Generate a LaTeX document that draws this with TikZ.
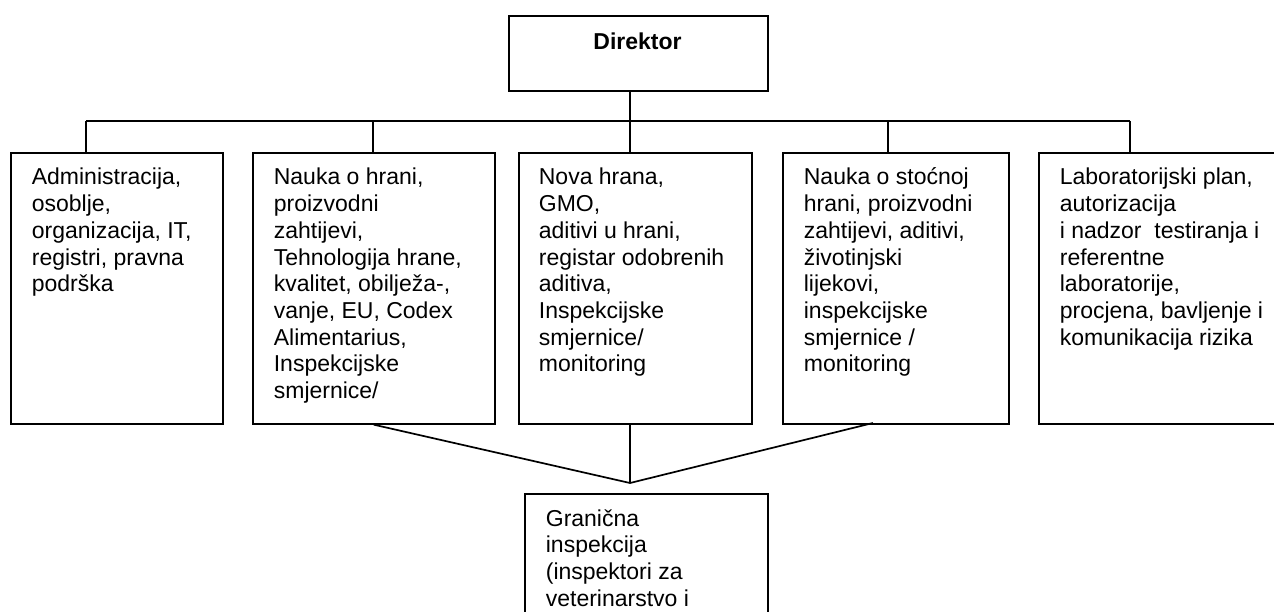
\documentclass[tikz,border=0pt]{standalone}
\usepackage{fontspec}
\setmainfont{Liberation Sans}
\begin{document}
\begin{tikzpicture}[x=1pt,y=-1pt,line width=1.7pt,
  box/.style={draw,line width=1.7pt,inner sep=0pt,anchor=north west},
  body/.style={inner sep=0pt,anchor=base west,font=\fontsize{23}{26.7}\selectfont},
  head/.style={inner sep=0pt,anchor=base,font=\bfseries\fontsize{23}{26.7}\selectfont}]
\clip (0,0) rectangle (1274,612);
\fill[white] (0,0) rectangle (1274,612);

% boxes
\node[box,minimum width=259pt,minimum height=75pt] (dir) at (508,15) {};
\node[box,minimum width=212pt,minimum height=271pt] (b1) at (10,152) {};
\node[box,minimum width=242pt,minimum height=271pt] (b2) at (252,152) {};
\node[box,minimum width=233pt,minimum height=271pt] (b3) at (518,152) {};
\node[box,minimum width=226pt,minimum height=271pt] (b4) at (782,152) {};
\node[box,minimum width=260pt,minimum height=271pt] (b5) at (1038,152) {};
\node[box,minimum width=243pt,minimum height=160pt] (g) at (524,493) {};

% texts
\node[head] (dirt) at (637.5,50) {Direktor};
\node[body] (t1) at (31,185) {\parbox[t]{200pt}{\raggedright
Administracija,\\ osoblje,\\ organizacija, IT,\\ registri, pravna\\ podrška}};
\node[body] (t2) at (273,185) {\parbox[t]{220pt}{\raggedright
Nauka o hrani,\\ proizvodni\\ zahtijevi,\\ Tehnologija hrane,\\ kvalitet, obilježa-,\\ vanje, EU, Codex\\ Alimentarius,\\ Inspekcijske\\ smjernice/}};
\node[body] (t3) at (538,185) {\parbox[t]{220pt}{\raggedright
Nova hrana,\\ GMO,\\ aditivi u hrani,\\ registar odobrenih\\ aditiva,\\ Inspekcijske\\ smjernice/\\ monitoring}};
\node[body] (t4) at (803,185) {\parbox[t]{220pt}{\raggedright
Nauka o stoćnoj\\ hrani, proizvodni\\ zahtijevi, aditivi,\\ životinjski\\ lijekovi,\\ inspekcijske\\ smjernice /\\ monitoring}};
\node[body] (t5) at (1059,185) {\parbox[t]{220pt}{\raggedright
Laboratorijski plan,\\ autorizacija\\ i nadzor\ \ testiranja i\\ referentne\\ laboratorije,\\ procjena, bavljenje i\\ komunikacija rizika}};
\node[body] (tg) at (545,526) {\parbox[t]{220pt}{\raggedright
Granična\\ inspekcija\\ (inspektori za\\ veterinarstvo i}};

% bus from the director down to the departments
\coordinate (d1) at (86,121);
\coordinate (d2) at (373,121);
\coordinate (d3) at (630,121);
\coordinate (d4) at (888,121);
\coordinate (d5) at (1130,121);
\draw (dir.south -| d3) -- (d3);
\draw (d1) -- (d5);
\draw (d1) -- (d1 |- b1.north);
\draw (d2) -- (d2 |- b2.north);
\draw (d3) -- (d3 |- b3.north);
\draw (d4) -- (d4 |- b4.north);
\draw (d5) -- (d5 |- b5.north);

% links to the border inspection
\coordinate (m) at (630,483);
\coordinate (s4) at (873,423);
\draw (b2.south) -- (m);
\draw (b3.south -| m) -- (m);
\draw (s4) -- (m);
\end{tikzpicture}
\end{document}
